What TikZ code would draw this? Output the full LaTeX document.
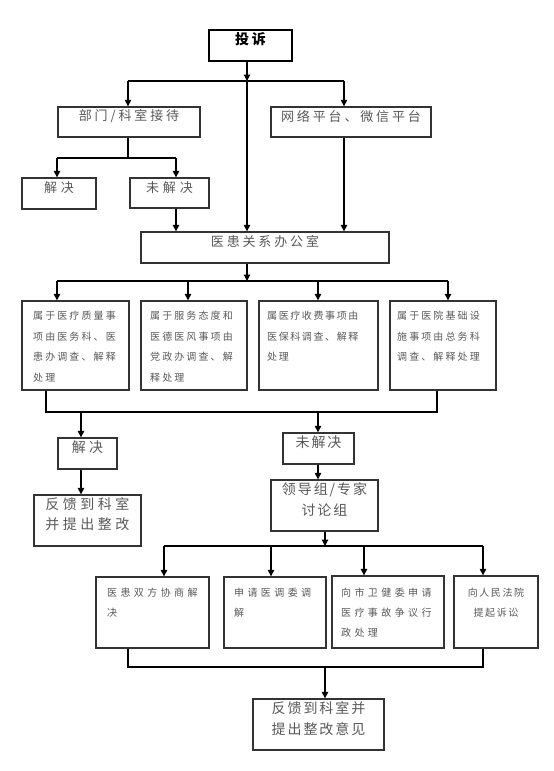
\documentclass[tikz,border=0pt]{standalone}
\usepackage{fontspec}
\usetikzlibrary{arrows.meta,fit}
\setmainfont{Noto Sans CJK SC}
\newfontfamily\lsA[LetterSpace=22]{Noto Sans CJK SC}
\newfontfamily\lsB[LetterSpace=30]{Noto Sans CJK SC}
\newfontfamily\lsC[LetterSpace=21]{Noto Sans CJK SC}
\newfontfamily\lsD[LetterSpace=34]{Noto Sans CJK SC}
\newfontfamily\lsE[LetterSpace=16]{Noto Sans CJK SC}
\newfontfamily\lsF[LetterSpace=14]{Noto Sans CJK SC}
\newfontfamily\lsG[LetterSpace=25]{Noto Sans CJK SC}
\newfontfamily\lsH[LetterSpace=20]{Noto Sans CJK SC}
\begin{document}
\begin{tikzpicture}[x=1pt,y=-1pt,
  box/.style={draw=black!80, line width=1.3pt, inner sep=0pt, text=black!65},
  ln/.style={line width=1.1pt, draw=black},
  arr/.style={ln, -{Triangle[length=6.5pt,width=6.5pt]}},
  fmed/.style={font={\lsA\fontsize{13}{16}\selectfont}},
  fmedw/.style={font={\lsB\fontsize{13}{16}\selectfont}},
  fbig/.style={font={\lsF\fontsize{14}{21}\selectfont}},
  mtxt/.style={inner sep=0pt, anchor=north west, align=left, text=black!65, font={\lsC\fontsize{10}{20.5}\selectfont}},
  btxt/.style={inner sep=0pt, anchor=north west, align=left, text=black!65, font={\lsD\fontsize{10}{20}\selectfont}},
]
\useasboundingbox (0,0) rectangle (554,771);
\fill[white] (0,0) rectangle (554,771);

% top part
\node[box, draw=black, line width=2.2pt, text=black, fit={(209,30) (292,61)}, font={\lsH\bfseries\fontsize{14}{16}\selectfont}] (ts) {投诉};
\node[box, fmed, fit={(58,107) (200,137)}] (bm) {部门/科室接待};
\node[box, fmed, fit={(271,107) (431,137)}] (wl) {网络平台、微信平台};
\node[box, fmedw, fit={(22,178) (96,209)}] (jj1) {解决};
\node[box, fmedw, fit={(130,178) (209,208)}] (wj1) {未解决};
\node[box, fmed, fit={(141,232) (389,263)}] (yh) {医患关系办公室};

% four category boxes
\node[box, fit={(22,301) (129,390)}] (m1) {};
\node[box, fit={(141,301) (247,390)}] (m2) {};
\node[box, fit={(259,301) (378,390)}] (m3) {};
\node[box, fit={(390,301) (496,390)}] (m4) {};
\node[mtxt] (t1) at (33,311) {属于医疗质量事\\项由医务科、医\\患办调查、解释\\处理};
\node[mtxt] (t2) at (150,311) {属于服务态度和\\医德医风事项由\\党政办调查、解\\释处理};
\node[mtxt, font={\lsE\fontsize{10}{20.5}\selectfont}] (t3) at (267,311) {属医疗收费事项由\\医保科调查、解释\\处理};
\node[mtxt] (t4) at (397,311) {属于医院基础设\\施事项由总务科\\调查、解释处理};

% second level
\node[box, font={\lsG\fontsize{14}{16}\selectfont}, fit={(58,438) (117,469)}] (jj2) {解决};
\node[box, fbig, fit={(283,433) (354,464)}] (wj2) {未解决};
\node[box, align=center, font={\lsG\fontsize{14}{20}\selectfont}, fit={(34,495) (141,546)}] (fk) {反馈到科室\\并提出整改};
\node[box, fbig, align=left, fit={(271,480) (378,531)}] (ld) {领导组/专家\\讨论组};

% bottom options
\node[box, fit={(96,577) (209,648)}] (bA) {};
\node[box, fit={(224,577) (326,648)}] (bB) {};
\node[box, fit={(332,576) (444,648)}] (bC) {};
\node[box, fit={(454,576) (538,648)}] (bD) {};
\node[btxt] (tA) at (107,588) {医患双方协商解\\决};
\node[btxt] (tB) at (234,588) {申请医调委调\\解};
\node[btxt] (tC) at (341,588) {向市卫健委申请\\医疗事故争议行\\政处理};
\node[btxt, anchor=north, align=center, font={\lsE\fontsize{10}{20}\selectfont}] (tD) at (496,588) {向人民法院\\提起诉讼};

\node[box, fbig, align=center, fit={(253,699) (384,750)}] (fin) {反馈到科室并\\提出整改意见};

% junctions
\coordinate (j1) at (247,81);
\coordinate (j1l) at (128,81);
\coordinate (j1r) at (344,81);
\coordinate (j2) at (128,158);
\coordinate (j2l) at (57,158);
\coordinate (j2r) at (176,158);
\coordinate (j3) at (247,281);
\coordinate (j3a) at (57,281);
\coordinate (j3b) at (188,281);
\coordinate (j3c) at (318,281);
\coordinate (j3d) at (448,281);
\coordinate (j4a) at (46,412);
\coordinate (j4d) at (437,412);
\coordinate (j4l) at (81,412);
\coordinate (j4r) at (318,412);
\coordinate (j5) at (325,546);
\coordinate (j5a) at (164,546);
\coordinate (j5b) at (271,546);
\coordinate (j5c) at (364,546);
\coordinate (j5d) at (483,546);
\coordinate (j6) at (325,667);
\coordinate (j6a) at (128,667);
\coordinate (j6d) at (483,667);

% connectors
\draw[arr] (j1 |- ts.south) -- (j1);
\draw[ln] (j1l) -- (j1r);
\draw[arr] (j1l) -- (j1l |- bm.north);
\draw[arr] (j1r) -- (j1r |- wl.north);
\draw[arr] (j1) -- (j1 |- yh.north);

\draw[ln] (j2 |- bm.south) -- (j2);
\draw[ln] (j2l) -- (j2r);
\draw[arr] (j2l) -- (j2l |- jj1.north);
\draw[arr] (j2r) -- (j2r |- wj1.north);
\draw[arr] (j2r |- wj1.south) -- (j2r |- yh.north);
\draw[arr] (j1r |- wl.south) -- (j1r |- yh.north);

\draw[arr] (j3 |- yh.south) -- (j3);
\draw[ln] (j3a) -- (j3d);
\draw[arr] (j3a) -- (j3a |- m1.north);
\draw[arr] (j3b) -- (j3b |- m2.north);
\draw[arr] (j3c) -- (j3c |- m3.north);
\draw[arr] (j3d) -- (j3d |- m4.north);

\draw[ln] (j4a |- m1.south) -- (j4a) -- (j4d) -- (j4d |- m4.south);
\draw[arr] (j4l) -- (j4l |- jj2.north);
\draw[arr] (j4r) -- (j4r |- wj2.north);
\draw[arr] (j4l |- jj2.south) -- (j4l |- fk.north);
\draw[arr] (j4r |- wj2.south) -- (j4r |- ld.north);

\draw[arr] (j5 |- ld.south) -- (j5);
\draw[ln] (j5a) -- (j5d);
\draw[arr] (j5a) -- (j5a |- bA.north);
\draw[arr] (j5b) -- (j5b |- bB.north);
\draw[arr] (j5c) -- (j5c |- bC.north);
\draw[arr] (j5d) -- (j5d |- bD.north);

\draw[ln] (j6a |- bA.south) -- (j6a) -- (j6d) -- (j6d |- bD.south);
\draw[arr] (j6) -- (j6 |- fin.north);
\end{tikzpicture}
\end{document}
